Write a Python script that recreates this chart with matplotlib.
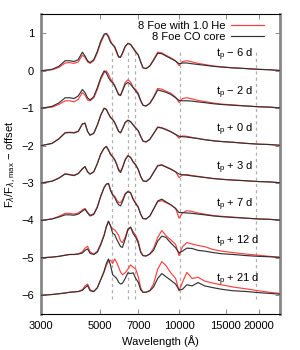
import matplotlib
matplotlib.use("Agg")
import matplotlib.pyplot as plt
import numpy as np
from matplotlib.ticker import FixedLocator, NullLocator, FixedFormatter

plt.rcParams['font.family'] = ['Liberation Sans', 'DejaVu Sans']

wavelength = [3000, 3300, 3500, 3700, 3850, 4000, 4150, 4300, 4400, 4500, 4600, 4750, 4900,
              5050, 5200, 5300, 5400, 5500, 5600, 5700, 5800, 5900, 6000, 6100, 6250, 6400,
              6550, 6700, 6850, 7000, 7150, 7300, 7500, 7750, 8000, 8300, 8600, 8900, 9300,
              9700, 10000, 10300, 10700, 11200, 11800, 12500, 13500, 14500, 16000, 18000,
              20000, 22000, 24000]

epoch_labels = [r"t$_\mathregular{p}$ − 6 d", r"t$_\mathregular{p}$ − 2 d", r"t$_\mathregular{p}$ + 0 d",
                r"t$_\mathregular{p}$ + 3 d", r"t$_\mathregular{p}$ + 7 d", r"t$_\mathregular{p}$ + 12 d",
                r"t$_\mathregular{p}$ + 21 d"]
offsets = [0, 1, 2, 3, 4, 5, 6]

# CO core model (black)
co_m6 = [0.0, 0.04, 0.12, 0.27, 0.27, 0.25, 0.30, 0.50, 0.40, 0.27, 0.22, 0.30, 0.52, 0.80, 0.98, 1.0,
         0.90, 0.76, 0.70, 0.65, 0.52, 0.38, 0.36, 0.48, 0.66, 0.73, 0.70, 0.60, 0.50, 0.42, 0.24, 0.08,
         0.06, 0.13, 0.28, 0.47, 0.46, 0.40, 0.33, 0.26, 0.19, 0.21, 0.21, 0.19, 0.17, 0.15, 0.12, 0.10,
         0.08, 0.06, 0.04, 0.03, 0.01]
co_m2 = [0.0, 0.05, 0.14, 0.28, 0.28, 0.26, 0.33, 0.50, 0.42, 0.28, 0.22, 0.31, 0.55, 0.82, 1.0, 0.95,
         0.82, 0.73, 0.68, 0.60, 0.48, 0.36, 0.34, 0.46, 0.64, 0.69, 0.64, 0.55, 0.46, 0.37, 0.20, 0.08,
         0.06, 0.13, 0.28, 0.49, 0.46, 0.43, 0.37, 0.28, 0.21, 0.20, 0.20, 0.19, 0.17, 0.15, 0.12, 0.10,
         0.08, 0.06, 0.04, 0.03, 0.01]
co_p0 = [0.0, 0.06, 0.18, 0.34, 0.35, 0.34, 0.38, 0.58, 0.60, 0.38, 0.28, 0.33, 0.55, 0.82, 1.0, 0.97,
         0.85, 0.75, 0.70, 0.62, 0.50, 0.38, 0.34, 0.45, 0.62, 0.68, 0.64, 0.55, 0.47, 0.40, 0.25, 0.12,
         0.10, 0.17, 0.32, 0.49, 0.47, 0.43, 0.37, 0.30, 0.25, 0.24, 0.23, 0.21, 0.19, 0.16, 0.13, 0.11,
         0.09, 0.06, 0.04, 0.03, 0.01]
co_p3 = [0.0, 0.05, 0.13, 0.24, 0.22, 0.20, 0.25, 0.38, 0.44, 0.30, 0.24, 0.30, 0.52, 0.78, 0.93, 0.98,
         0.88, 0.76, 0.70, 0.62, 0.50, 0.34, 0.28, 0.40, 0.62, 0.73, 0.68, 0.56, 0.48, 0.36, 0.18, 0.06,
         0.04, 0.12, 0.28, 0.46, 0.48, 0.43, 0.37, 0.30, 0.24, 0.22, 0.21, 0.19, 0.17, 0.15, 0.12, 0.10,
         0.08, 0.06, 0.04, 0.03, 0.01]
co_p7 = [0.0, 0.04, 0.09, 0.15, 0.15, 0.14, 0.17, 0.25, 0.30, 0.20, 0.12, 0.16, 0.35, 0.65, 0.88, 0.97,
         0.99, 0.80, 0.68, 0.62, 0.50, 0.42, 0.39, 0.50, 0.70, 0.77, 0.74, 0.56, 0.45, 0.35, 0.17, 0.05,
         0.04, 0.12, 0.30, 0.52, 0.57, 0.50, 0.42, 0.32, 0.21, 0.21, 0.20, 0.19, 0.17, 0.15, 0.12, 0.10,
         0.08, 0.06, 0.04, 0.03, 0.01]
co_p12 = [0.0, 0.02, 0.04, 0.07, 0.09, 0.09, 0.10, 0.13, 0.20, 0.24, 0.12, 0.09, 0.15, 0.35, 0.60, 0.82,
          0.98, 0.85, 0.66, 0.62, 0.50, 0.40, 0.30, 0.28, 0.50, 0.75, 0.82, 0.65, 0.55, 0.40, 0.15, 0.06,
          0.05, 0.10, 0.20, 0.45, 0.58, 0.55, 0.40, 0.27, 0.13, 0.18, 0.26, 0.25, 0.20, 0.18, 0.14, 0.11,
          0.09, 0.06, 0.04, 0.03, 0.01]
co_p21 = [0.0, 0.02, 0.04, 0.06, 0.08, 0.09, 0.10, 0.13, 0.20, 0.26, 0.12, 0.10, 0.20, 0.42, 0.65, 0.85,
          0.97, 0.80, 0.55, 0.50, 0.45, 0.35, 0.30, 0.32, 0.45, 0.60, 0.58, 0.60, 0.45, 0.35, 0.15, 0.08,
          0.08, 0.12, 0.22, 0.45, 0.58, 0.50, 0.40, 0.30, 0.14, 0.16, 0.28, 0.25, 0.34, 0.25, 0.20, 0.16,
          0.12, 0.10, 0.07, 0.05, 0.03]

# He-rich model (red)
he_m6 = [0.0, 0.03, 0.09, 0.21, 0.22, 0.20, 0.24, 0.42, 0.36, 0.24, 0.20, 0.27, 0.48, 0.75, 0.95, 1.0,
         0.94, 0.80, 0.70, 0.62, 0.48, 0.36, 0.38, 0.45, 0.64, 0.74, 0.71, 0.62, 0.52, 0.43, 0.25, 0.08,
         0.06, 0.14, 0.30, 0.50, 0.48, 0.42, 0.35, 0.27, 0.14, 0.25, 0.27, 0.24, 0.20, 0.17, 0.13, 0.11,
         0.08, 0.06, 0.04, 0.03, 0.01]
he_m2 = [0.0, 0.03, 0.10, 0.20, 0.20, 0.17, 0.24, 0.42, 0.35, 0.22, 0.20, 0.28, 0.50, 0.78, 0.95, 1.0,
         0.91, 0.78, 0.71, 0.61, 0.48, 0.38, 0.36, 0.48, 0.69, 0.76, 0.70, 0.56, 0.50, 0.40, 0.22, 0.08,
         0.06, 0.14, 0.30, 0.53, 0.51, 0.46, 0.40, 0.30, 0.15, 0.26, 0.28, 0.25, 0.21, 0.18, 0.14, 0.11,
         0.09, 0.06, 0.04, 0.03, 0.01]
he_p0 = [0.0, 0.06, 0.18, 0.35, 0.36, 0.35, 0.39, 0.58, 0.60, 0.38, 0.28, 0.33, 0.55, 0.82, 1.0, 0.97,
         0.86, 0.76, 0.70, 0.62, 0.50, 0.38, 0.35, 0.45, 0.62, 0.68, 0.64, 0.56, 0.48, 0.40, 0.25, 0.12,
         0.10, 0.17, 0.32, 0.50, 0.48, 0.44, 0.38, 0.30, 0.20, 0.26, 0.25, 0.22, 0.19, 0.16, 0.13, 0.11,
         0.09, 0.06, 0.04, 0.03, 0.01]
he_p3 = [0.0, 0.05, 0.13, 0.25, 0.23, 0.21, 0.26, 0.38, 0.44, 0.30, 0.24, 0.30, 0.52, 0.78, 0.93, 0.98,
         0.89, 0.78, 0.71, 0.63, 0.51, 0.37, 0.32, 0.42, 0.63, 0.74, 0.69, 0.57, 0.49, 0.37, 0.18, 0.06,
         0.04, 0.12, 0.28, 0.47, 0.49, 0.44, 0.38, 0.30, 0.15, 0.22, 0.23, 0.20, 0.18, 0.15, 0.12, 0.10,
         0.08, 0.06, 0.04, 0.03, 0.01]
he_p7 = [0.0, 0.04, 0.11, 0.19, 0.19, 0.17, 0.20, 0.28, 0.32, 0.22, 0.14, 0.18, 0.37, 0.66, 0.88, 0.97,
         0.99, 0.82, 0.70, 0.64, 0.55, 0.48, 0.48, 0.55, 0.72, 0.78, 0.74, 0.58, 0.47, 0.36, 0.17, 0.05,
         0.04, 0.12, 0.30, 0.50, 0.53, 0.48, 0.42, 0.32, 0.06, 0.20, 0.26, 0.24, 0.20, 0.17, 0.13, 0.11,
         0.09, 0.06, 0.04, 0.03, 0.01]
he_p12 = [0.0, 0.02, 0.04, 0.07, 0.09, 0.09, 0.11, 0.16, 0.26, 0.31, 0.16, 0.10, 0.18, 0.38, 0.62, 0.85,
          0.98, 0.85, 0.78, 0.75, 0.68, 0.60, 0.45, 0.41, 0.55, 0.78, 0.82, 0.70, 0.60, 0.45, 0.18, 0.06,
          0.05, 0.11, 0.25, 0.55, 0.73, 0.60, 0.48, 0.36, 0.06, 0.30, 0.41, 0.37, 0.33, 0.30, 0.22, 0.18,
          0.14, 0.10, 0.07, 0.04, 0.02]
he_p21 = [0.0, 0.02, 0.04, 0.06, 0.08, 0.09, 0.10, 0.15, 0.25, 0.30, 0.15, 0.10, 0.20, 0.42, 0.62, 0.80,
          0.90, 0.94, 0.85, 0.97, 0.88, 0.75, 0.62, 0.55, 0.60, 0.70, 0.81, 0.75, 0.70, 0.50, 0.20, 0.08,
          0.08, 0.13, 0.30, 0.70, 0.90, 0.80, 0.60, 0.45, 0.12, 0.35, 0.61, 0.45, 0.48, 0.38, 0.32, 0.28,
          0.22, 0.17, 0.12, 0.08, 0.05]

co_series = [co_m6, co_m2, co_p0, co_p3, co_p7, co_p12, co_p21]
he_series = [he_m6, he_m2, he_p0, he_p3, he_p7, he_p12, he_p21]

line_wavelengths = [5580, 6400, 6800, 10050, 19500]

xticks = [3000, 5000, 7000, 10000, 15000, 20000]
yticks = [-6, -5, -4, -3, -2, -1, 0, 1]

fig = plt.figure(figsize=(3.0, 3.5), dpi=100)
ax = fig.add_axes([0.137, 0.103, 0.796, 0.857])

wl = np.array(wavelength)
for lw_ in line_wavelengths:
    ax.plot([lw_, lw_], [-6.1, 0.5], color='#b0b0b0', lw=0.9, ls=(0, (2.5, 2.5)), zorder=1)

for k in range(len(offsets)):
    ax.plot(wl, np.array(he_series[k]) - offsets[k], color='#ff4040', lw=0.85, zorder=2,
            label='8 Foe with 1.0 He' if k == 0 else None)
    ax.plot(wl, np.array(co_series[k]) - offsets[k], color='#333333', lw=0.85, zorder=3,
            label='8 Foe CO core' if k == 0 else None)
    ax.text(13800, 0.42 - offsets[k], epoch_labels[k], fontsize=8, ha='left', va='center')

ax.set_xscale('log')
ax.set_xlim(3000, 24100)
ax.set_ylim(-6.5, 1.52)
ax.xaxis.set_major_locator(FixedLocator(xticks))
ax.xaxis.set_major_formatter(FixedFormatter([str(t) for t in xticks]))
ax.xaxis.set_minor_locator(NullLocator())
ax.set_yticks(yticks)
ax.set_yticklabels([str(t).replace('-', '−') for t in yticks])

ax.tick_params(axis='both', which='major', direction='in', length=3.5, width=0.6,
               labelsize=8, top=True, right=True, color='#777777', pad=5)

for side in ['left', 'right']:
    ax.spines[side].set_color('#888888')
    ax.spines[side].set_linewidth(2.0)
for side in ['top', 'bottom']:
    ax.spines[side].set_color('black')
    ax.spines[side].set_linewidth(0.8)

ax.set_xlabel('Wavelength (Å)', fontsize=8, labelpad=3)
ax.set_ylabel(r'F$_\lambda$/F$_{\lambda,\mathregular{max}}$ − offset', fontsize=8, labelpad=2)

leg = ax.legend(loc='upper right', frameon=False, fontsize=8, markerfirst=False,
                handlelength=2.9, handletextpad=0.5, labelspacing=0.1,
                borderaxespad=0.2, bbox_to_anchor=(0.96, 1.0))

fig.savefig('out.png', dpi=100)
